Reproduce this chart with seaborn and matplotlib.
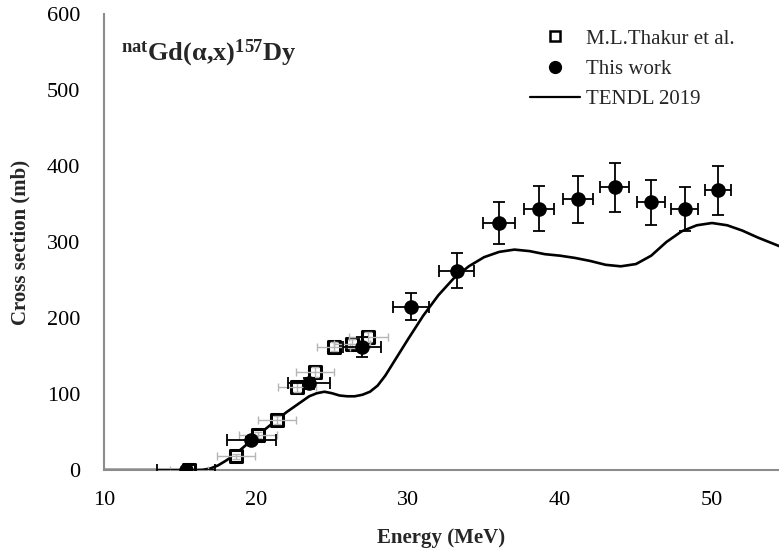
import numpy as np
import pandas as pd
import seaborn as sns
import matplotlib
matplotlib.use("Agg")
import matplotlib.pyplot as plt
from matplotlib.lines import Line2D

# ---------------- data ----------------
# This work (filled circles)
tw_energy = [15.4, 19.7, 23.5, 27.0, 30.2, 33.2, 36.0, 38.6, 41.2, 43.6, 46.0, 48.2, 50.4]
tw_xs = [0.5, 39, 114, 162, 215, 262, 325, 344, 356, 372, 352, 343, 368]
tw_xerr = [1.9, 1.6, 1.4, 1.25, 1.2, 1.15, 1.07, 1.0, 1.0, 0.95, 0.92, 0.9, 0.85]
tw_yerr = [1, 4, 7, 13, 18, 23, 28, 30, 31, 32, 30, 29, 32]

# M.L.Thakur et al. (open squares)
th_energy = [15.6, 18.66, 20.15, 21.4, 22.7, 23.9, 25.1, 26.3, 27.4]
th_xs = [0.5, 18, 46, 66, 109, 129, 162, 166, 175]
th_xerr = [1.25, 1.25, 1.25, 1.25, 1.25, 1.25, 1.1, 1.2, 1.3]
th_yerr = [2, 3, 4, 5, 6, 6, 6, 6, 6]

# TENDL 2019
tendl_energy = [10, 11, 12, 13, 14, 15, 16, 16.5, 17, 17.5, 18, 18.6, 19, 20, 21, 22, 23,
                23.5, 24, 24.5, 25, 25.5, 26, 26.5, 27, 27.5, 28, 28.5, 29, 30, 31, 32, 33,
                34, 35, 36, 37, 38, 39, 40, 41, 42, 43, 44, 45, 46, 47, 48, 49, 50, 51, 52,
                53, 54, 55]
tendl_xs = [0, 0, 0, 0, 0, 0, 0, 0.3, 2, 6, 12, 20, 27, 44, 60, 76, 90,
            97, 101, 103, 101, 98, 97, 97, 99, 103, 111, 124, 140, 172, 203, 230, 252,
            268, 280, 287, 290, 288, 284, 282, 279, 275, 270, 268, 271, 282, 300, 314,
            322, 325, 322, 315, 306, 298, 290]

x_ticks = [10, 20, 30, 40, 50]
y_ticks = [0, 100, 200, 300, 400, 500, 600]

# ---------------- style ----------------
sns.set_theme(style="white")
plt.rcParams['font.family'] = ['Liberation Serif', 'DejaVu Serif']
plt.rcParams['mathtext.fontset'] = 'custom'
plt.rcParams['mathtext.rm'] = 'Liberation Serif'
plt.rcParams['mathtext.bf'] = 'Liberation Serif:bold'
plt.rcParams['mathtext.it'] = 'Liberation Serif:italic'

spine_col = "#8c8c8c"

fig = plt.figure(figsize=(7.79, 5.58), dpi=100)
ax = fig.add_axes([104 / 779, 1 - 470 / 558, 1 - 104 / 779, (470 - 14) / 558])

df_tendl = pd.DataFrame({"E": tendl_energy, "xs": tendl_xs})
sns.lineplot(data=df_tendl, x="E", y="xs", ax=ax, color="black", lw=1.9, zorder=2)

# Thakur: squares + grey error bars
df_th = pd.DataFrame({"E": th_energy, "xs": th_xs})
sns.scatterplot(data=df_th, x="E", y="xs", ax=ax, marker="s", s=80,
                facecolor="white", edgecolor="black", linewidth=2.2, zorder=4)
ax.errorbar(th_energy, th_xs, xerr=th_xerr, yerr=th_yerr, fmt="none",
            ecolor="#b5b5b5", elinewidth=1.0, capsize=3, capthick=1.0, zorder=5)

# This work: circles + black error bars
ax.errorbar(tw_energy, tw_xs, xerr=tw_xerr, yerr=tw_yerr, fmt="none",
            ecolor="black", elinewidth=1.3, capsize=4.5, capthick=1.3, zorder=6)
df_tw = pd.DataFrame({"E": tw_energy, "xs": tw_xs})
sns.scatterplot(data=df_tw, x="E", y="xs", ax=ax, marker="o", s=110,
                color="black", edgecolor="black", linewidth=0, zorder=7)

ax.set_xlim(10, 10 + (779 - 104) / 15.2)
ax.set_ylim(0, 600)
ax.set_xticks(x_ticks)
ax.set_yticks(y_ticks)
ax.tick_params(axis="both", labelsize=16, colors=spine_col, labelcolor="black",
               width=1, direction="out")
ax.tick_params(axis="x", length=5, pad=10)
ax.tick_params(axis="y", length=7, pad=10)
for side in ["top", "right"]:
    ax.spines[side].set_visible(False)
for side in ["left", "bottom"]:
    ax.spines[side].set_color(spine_col)
    ax.spines[side].set_linewidth(1.5)

ax.set_xlabel("Energy (MeV)", fontsize=15, fontweight="bold")
ax.set_ylabel("Cross section (mb)", fontsize=15, fontweight="bold")
ax.xaxis.set_label_coords(0.5, (470 - 538) / 456)
ax.yaxis.set_label_coords((20 - 104) / 675, 0.5)
ax.xaxis.label.set_va("center")
ax.yaxis.label.set_va("center")

ax.text(121 / 779, 1 - 60 / 558, r"$\mathbf{{}^{nat}Gd(α{,}x)^{157}Dy}$",
        transform=fig.transFigure, fontsize=19, ha="left", va="baseline")

handles = [
    Line2D([], [], ls="none", marker="s", markersize=7, markerfacecolor="white",
           markeredgecolor="black", markeredgewidth=1.8),
    Line2D([], [], ls="none", marker="o", markersize=8.5, color="black"),
    Line2D([], [], color="black", lw=1.6),
]
labels = ["M.L.Thakur et al.", "This work", "TENDL 2019"]
ax.legend(handles, labels, loc="upper left", bbox_to_anchor=(530 / 779, 1 - 29 / 558),
          bbox_transform=fig.transFigure, frameon=False, fontsize=15,
          handlelength=2.4, handletextpad=0.3, labelspacing=0.52, borderpad=0,
          borderaxespad=0)

fig.savefig("out.png", dpi=100)
